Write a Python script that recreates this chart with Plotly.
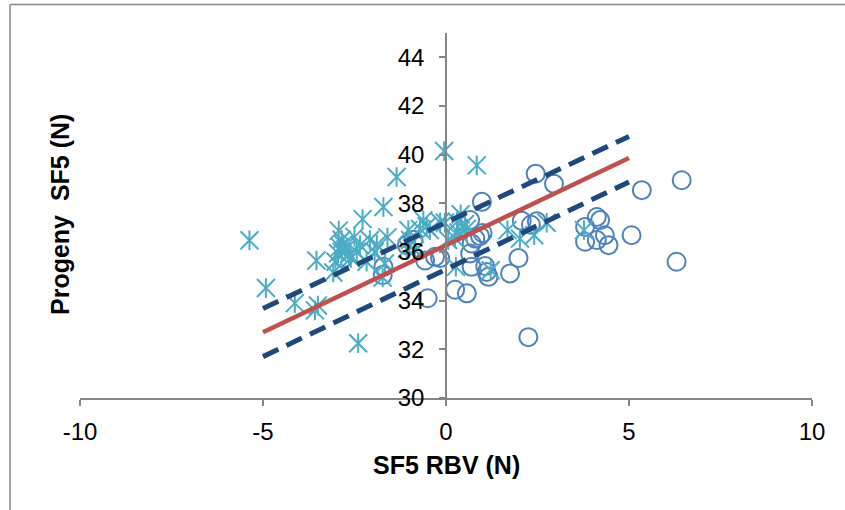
import plotly.graph_objects as go

# ---- data ----
star_x = [-5.37, -4.92, -4.13, -3.58, -3.50, -3.54, -2.93, -3.08, -2.90, -2.85, -2.80, -2.95,
          -2.75, -2.40, -2.28, -2.50, -2.35, -2.44, -2.60, -2.17, -2.08, -1.95, -1.89, -1.71,
          -1.35, -1.60, -1.67, -1.73, -1.07, -0.98, -0.85, -0.71, -0.62, -0.53, -0.16, -0.05,
          0.84, -0.03, 0.40, 0.30, 0.52, 0.57, 0.34, 0.25, 0.06, 0.27, 1.22, 1.68, 2.02, 2.41,
          2.75, 3.77, -1.03, -2.85, -2.65, -0.44, -3.02]
star_y = [36.48, 34.52, 33.90, 33.60, 33.80, 35.65, 36.88, 35.16, 36.20, 36.00, 36.30, 35.95,
          36.10, 32.25, 37.35, 36.62, 36.28, 36.00, 35.75, 35.60, 36.49, 36.00, 36.30, 37.85,
          39.08, 36.60, 35.53, 34.95, 36.14, 36.49, 36.08, 36.95, 37.30, 37.05, 37.22, 40.15,
          39.56, 37.20, 37.55, 37.24, 37.15, 36.95, 36.80, 36.56, 36.49, 35.39, 35.25, 36.90,
          36.55, 36.69, 37.20, 36.90, 36.90, 36.50, 35.90, 36.90, 35.60]

circ_x = [-2.80, -1.73, -1.71, -0.89, -0.57, -0.30, -0.50, -1.07, 0.25, 0.57, 0.66, 0.70,
          0.66, 0.98, 0.80, 0.93, 1.00, 0.70, 1.07, 1.11, 1.16, 1.75, 1.98, 2.07, 2.32, 2.48,
          2.45, 2.95, 2.25, 3.80, 4.12, 4.21, 3.80, 4.12, 4.34, 4.44, 5.07, 5.35, 6.44, 6.30,
          -0.16]
circ_y = [35.75, 35.05, 35.39, 36.50, 35.65, 35.80, 34.10, 36.28, 34.45, 34.30, 35.94, 35.39,
          37.31, 38.06, 36.55, 36.65, 36.78, 36.35, 35.42, 35.18, 34.98, 35.12, 35.75, 37.28,
          37.12, 37.26, 39.22, 38.80, 32.50, 37.03, 37.44, 37.31, 36.42, 36.49, 36.69, 36.28,
          36.69, 38.54, 38.95, 35.60, 35.75]

fit_x = [-5, 5]
fit_y = [32.70, 39.86]
upper_y = [33.68, 40.75]
lower_y = [31.70, 38.88]

x_ticks = [-10, -5, 0, 5, 10]
x_tick_labels = ["-10", "-5", "0", "5", "10"]
y_ticks = [30, 32, 34, 36, 38, 40, 42, 44]

STAR = "#4BACC6"
CIRC = "#4F81BD"
RED = "#C0504D"
DARK = "#1F497D"
AXIS = "#868686"
FONT = "Liberation Sans, Arial, sans-serif"

fig = go.Figure()

fig.add_trace(go.Scatter(x=circ_x, y=circ_y, mode="markers",
                         marker=dict(symbol="circle-open", size=18, color=CIRC,
                                     line=dict(width=2, color=CIRC)),
                         showlegend=False))
fig.add_trace(go.Scatter(x=star_x, y=star_y, mode="markers",
                         marker=dict(symbol="x-thin-open", size=18, color=STAR,
                                     line=dict(width=2, color=STAR)),
                         showlegend=False))
fig.add_trace(go.Scatter(x=star_x, y=star_y, mode="markers",
                         marker=dict(symbol="line-ns-open", size=14, color=STAR,
                                     line=dict(width=2, color=STAR)),
                         showlegend=False))

fig.add_trace(go.Scatter(x=fit_x, y=upper_y, mode="lines",
                         line=dict(color=DARK, width=5, dash="17px,9px"), showlegend=False))
fig.add_trace(go.Scatter(x=fit_x, y=lower_y, mode="lines",
                         line=dict(color=DARK, width=5, dash="17px,9px"), showlegend=False))
fig.add_trace(go.Scatter(x=fit_x, y=fit_y, mode="lines",
                         line=dict(color=RED, width=4.5), showlegend=False))

fig.update_layout(
    width=845, height=510,
    margin=dict(l=80, r=33, t=33, b=112),
    paper_bgcolor="white", plot_bgcolor="white",
    font=dict(family=FONT, size=24, color="black"),
    xaxis=dict(range=[-10, 10], tickvals=x_ticks, ticktext=x_tick_labels,
               showgrid=False, zeroline=False,
               showline=True, linecolor=AXIS, linewidth=1.5,
               ticks="outside", ticklen=6, tickcolor=AXIS, tickwidth=1.5,
               ticklabelstandoff=5,
               tickfont=dict(family=FONT, size=24, color="black")),
    yaxis=dict(range=[30, 45], tickvals=y_ticks, showgrid=False, zeroline=False,
               showline=True, linecolor=AXIS, linewidth=1.5,
               ticks="outside", ticklen=6, tickcolor=AXIS, tickwidth=1.5,
               anchor="free", position=0.5, ticklabelstandoff=10,
               tickfont=dict(family=FONT, size=24, color="black")),
    annotations=[
        dict(text="<b>SF5 RBV (N)</b>", xref="paper", yref="paper", x=0.5, y=(398 - 465) / 365,
             xanchor="center", yanchor="middle", showarrow=False,
             font=dict(family=FONT, size=25, color="black")),
        dict(text="<b>Progeny\u00a0 SF5 (N)</b>", xref="paper", yref="paper",
             x=(60 - 80) / 732, y=(398 - 215) / 365, textangle=-90,
             xanchor="center", yanchor="middle", showarrow=False,
             font=dict(family=FONT, size=25, color="black")),
    ],
    shapes=[
        dict(type="line", xref="paper", yref="paper", x0=(10 - 80) / 732, x1=(10 - 80) / 732,
             y0=(398 - 4.5) / 365, y1=-1, line=dict(color=AXIS, width=1.5)),
        dict(type="line", xref="paper", yref="paper", x0=(10 - 80) / 732, x1=2,
             y0=(398 - 4.5) / 365, y1=(398 - 4.5) / 365, line=dict(color=AXIS, width=1.5)),
    ],
)

fig.write_html("out.html")
